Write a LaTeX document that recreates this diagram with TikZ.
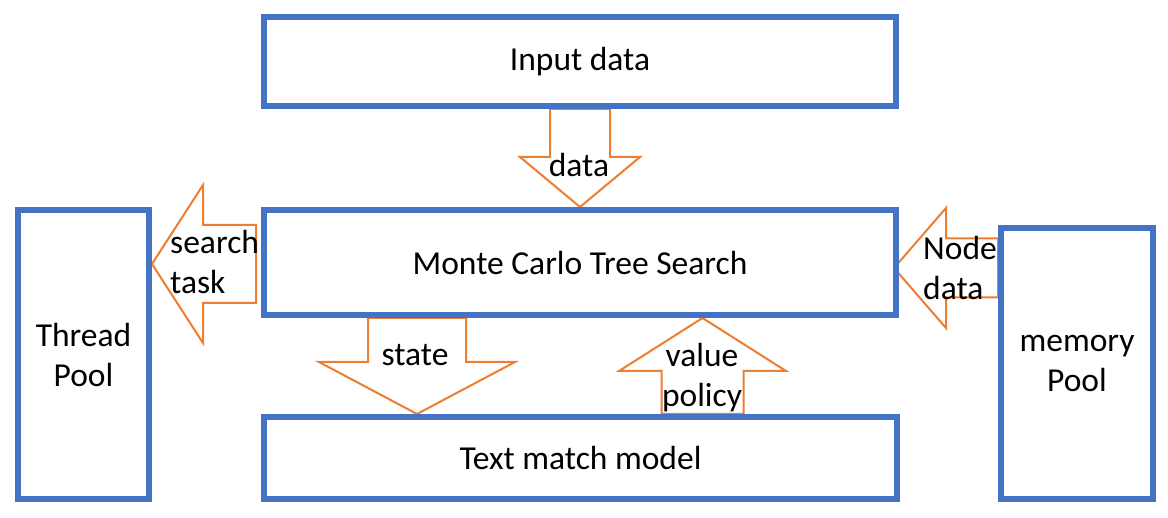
\documentclass[tikz,border=0pt]{standalone}
\usepackage{fontspec}
\setmainfont{Carlito}
\usetikzlibrary{calc,backgrounds}

\definecolor{boxblue}{HTML}{4472C4}
\definecolor{arroworange}{HTML}{ED7D31}

\tikzset{
  block/.style={draw=boxblue, line width=6pt, align=center},
  fatline/.style={draw=arroworange, line width=2pt, fill=white, line join=miter},
  tag/.style={inner sep=0pt},
}

% tail, tip, half shaft width, half head width, head length
\newcommand{\fatarrow}[5]{%
  \draw[fatline] let \p1=(#1), \p2=(#2),
      \n1={atan2(\y2-\y1,\x2-\x1)}, \n2={veclen(\x2-\x1,\y2-\y1)-#5pt} in
    ($(\p1)+(\n1+90:#3pt)$) -- ($(\p1)+(\n1:\n2)+(\n1+90:#3pt)$)
    -- ($(\p1)+(\n1:\n2)+(\n1+90:#4pt)$) -- (\p2)
    -- ($(\p1)+(\n1:\n2)+(\n1-90:#4pt)$) -- ($(\p1)+(\n1:\n2)+(\n1-90:#3pt)$)
    -- ($(\p1)+(\n1-90:#3pt)$) -- cycle;
}

\begin{document}
\begin{tikzpicture}[x=1pt, y=-1pt, nodes={font=\fontsize{33.5}{40}\selectfont}]
  \useasboundingbox (0,0) rectangle (1168,518);

  % boxes
  \node[block, minimum width=632pt, minimum height=89pt] (input) at (580,61.5) {Input data};
  \node[block, minimum width=632pt, minimum height=105pt] (mcts) at (580,262.5) {Monte Carlo Tree Search};
  \node[block, minimum width=633pt, minimum height=82pt] (textmatch) at (580.5,458) {Text match model};
  \node[block, minimum width=131pt, minimum height=289pt] (thread) at (83.5,354.5) {Thread\\Pool};
  \node[block, minimum width=152pt, minimum height=271pt] (memory) at (1077,363.5) {memory\\Pool};

  % arrow ends
  \coordinate (tasktail) at ($(mcts.west)+(-5,1.5)$);
  \coordinate (tasktip) at (tasktail -| thread.east);
  \coordinate (nodetip) at ($(mcts.east)+(-5,5.5)$);
  \coordinate (nodetail) at (nodetip -| memory.west);
  \coordinate (statetail) at ($(mcts.south)+(-163,0)$);
  \coordinate (statetip) at (statetail |- textmatch.north);
  \coordinate (valuetail) at ($(textmatch.north)+(122,0)$);
  \coordinate (valuetip) at (valuetail |- mcts.south);

  \begin{pgfonlayer}{background}
    \foreach \from/\to/\shaft/\head/\headlen in {
        input.south/mcts.north/30/60/50,
        tasktail/tasktip/39/79/51,
        nodetail/nodetip/29.5/60/52,
        statetail/statetip/49/98/52,
        valuetail/valuetip/41/83.5/53%
      } {
        \fatarrow{\from}{\to}{\shaft}{\head}{\headlen}
      }
  \end{pgfonlayer}

  % arrow labels
  \node[tag] (datalabel) at (579,165) {data};
  \node[tag, align=left, anchor=west] (tasklabel) at (170,262) {search\\task};
  \node[tag, align=left, anchor=west] (nodelabel) at (923,268) {Node\\data};
  \node[tag] (statelabel) at (415,355) {state};
  \node[tag, align=center] (valuelabel) at (702,378) {value\\policy};
\end{tikzpicture}
\end{document}
